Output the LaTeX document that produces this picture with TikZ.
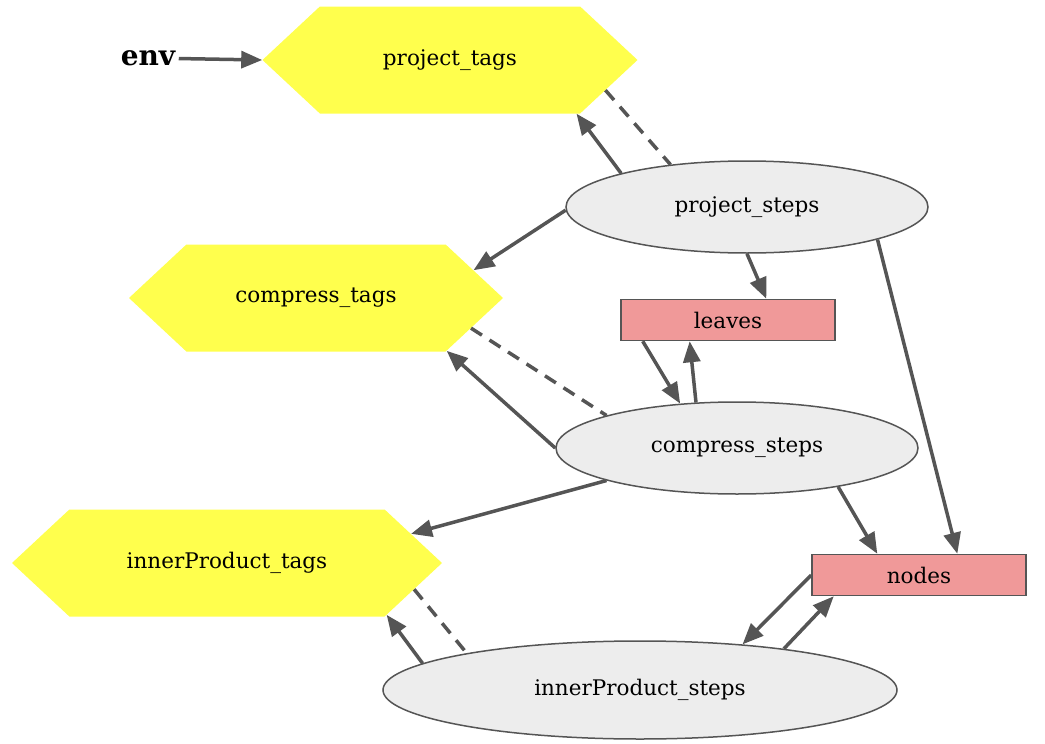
\documentclass[tikz,border=0pt]{standalone}
\usepackage{fontspec}
\setmainfont{DejaVu Serif}
\usetikzlibrary{arrows.meta,shapes.symbols,shapes.geometric}
\definecolor{tagfill}{HTML}{FFFF4D}
\definecolor{stepfill}{HTML}{EDEDED}
\definecolor{storefill}{HTML}{F09999}
\definecolor{edgegray}{HTML}{555555}

\begin{document}
\begin{tikzpicture}[x=1pt, y=-1pt, every node/.style={font=\fontsize{21.5}{25}\selectfont}, >={Triangle[length=21pt,width=17pt]},
	tags/.style={signal, signal to=west and east, signal pointer angle=86, fill=tagfill, minimum width=375pt, minimum height=107pt, inner sep=0pt},
	steps/.style={ellipse, draw=edgegray, line width=1.5pt, fill=stepfill, minimum width=362pt, minimum height=92pt},
	store/.style={rectangle, draw=edgegray, line width=1.5pt, fill=storefill, minimum width=214pt, minimum height=41pt},
	flow/.style={->, draw=edgegray, line width=3.5pt},
	link/.style={draw=edgegray, line width=3.5pt, dash pattern=on 13pt off 9pt}]
	\useasboundingbox (0,0) rectangle (1045,744);
	% tag tables
	\node[tags] (pt) at (450,60) {project\_tags};
	\node[tags, minimum width=374pt] (ct) at (316,298) {compress\_tags};
	\node[tags, minimum width=430pt] (it) at (227,563) {innerProduct\_tags};
	% steps
	\node[steps] (ps) at (747,207) {project\_steps};
	\node[steps] (cs) at (737,448) {compress\_steps};
	\node[steps, minimum width=514pt, minimum height=98pt] (ips) at (640,690) {innerProduct\_steps};
	% stores
	\node[store] (lv) at (728,320) {leaves};
	\node[store] (nd) at (919,575) {nodes};
	\node[font=\fontsize{28}{32}\selectfont\bfseries] (env) at (148,58) {env};
	% edges
	\draw[flow] (env) -- (pt.west);
	\draw[flow] (ps.165) -- (pt.-23);
	\draw[link] (pt.-11) -- (ps.151);
	\draw[flow] (ps.181) -- (ct.10);
	\draw[flow] (ps.-90) -- (lv.29);
	\draw[flow] (ps.-14) -- (nd.29);
	\draw[link] (ct.-11) -- (cs.166);
	\draw[flow] (cs.180) -- (ct.-22);
	\draw[flow] (lv.194) -- (cs.142);
	\draw[flow] (cs.132) -- (lv.209);
	\draw[flow] (cs.194) -- (it.9);
	\draw[flow] (cs.-21) -- (nd.153);
	\draw[link] (it.-8) -- (ips.168);
	\draw[flow] (ips.173) -- (it.-18);
	\draw[flow] (nd.west) -- (ips.24);
	\draw[flow] (ips.16) -- (nd.194);
\end{tikzpicture}
\end{document}
